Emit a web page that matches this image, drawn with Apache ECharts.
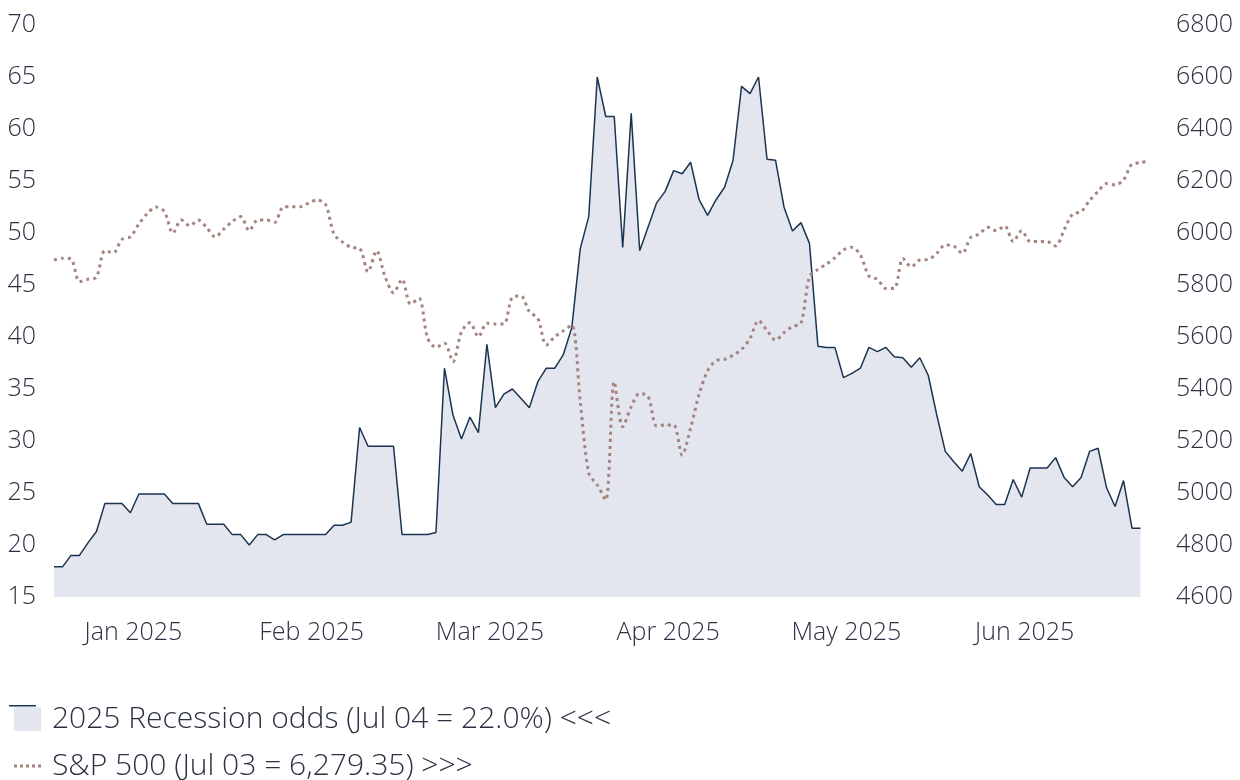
<!DOCTYPE html>
<html>
<head>
<meta charset="utf-8">
<script src="https://cdn.jsdelivr.net/npm/echarts@6/dist/echarts.min.js"></script>
<style>
  html, body { margin: 0; padding: 0; background: #fff; }
  #chart { width: 1240px; height: 780px; }
</style>
</head>
<body>
<div id="chart"></div>
<script>
// business days from 7 Jan 2025, one per point on the x axis
var dates = []
for (var d = new Date(Date.UTC(2025, 0, 7)); dates.length < 130; d.setUTCDate(d.getUTCDate() + 1)) {
  var wd = d.getUTCDay()
  if (wd !== 0 && wd !== 6) dates.push(d.toISOString().slice(0, 10))
}

var monthNames = ['Jan', 'Feb', 'Mar', 'Apr', 'May', 'Jun', 'Jul', 'Aug', 'Sep', 'Oct', 'Nov', 'Dec']

var oddsName = '2025 Recession odds (Jul 04 = 22.0%) <<<'
var spxName = 'S&P 500 (Jul 03 = 6,279.35) >>>'

// recession odds, %
var odds = [
  17.9, 17.9, 19.0, 19.0, 20.2, 21.3, 24.0, 24.0, 24.0, 23.1,
  24.9, 24.9, 24.9, 24.9, 24.0, 24.0, 24.0, 24.0, 22.0, 22.0,
  22.0, 21.0, 21.0, 20.0, 21.0, 21.0, 20.5, 21.0, 21.0, 21.0,
  21.0, 21.0, 21.0, 21.9, 21.9, 22.2, 31.3, 29.5, 29.5, 29.5,
  29.5, 21.0, 21.0, 21.0, 21.0, 21.2, 37.0, 32.5, 30.2, 32.3,
  30.8, 39.3, 33.2, 34.5, 35.0, 34.1, 33.2, 35.7, 37.0, 37.0,
  38.3, 40.9, 48.5, 51.6, 65.0, 61.2, 61.2, 48.6, 61.5, 48.3,
  50.6, 52.9, 54.0, 56.0, 55.7, 56.8, 53.2, 51.7, 53.2, 54.4,
  57.0, 64.1, 63.4, 65.0, 57.1, 57.0, 52.5, 50.2, 51.0, 49.0,
  39.1, 39.0, 39.0, 36.1, 36.5, 37.0, 39.0, 38.6, 39.0, 38.1,
  38.0, 37.1, 38.0, 36.3, 32.5, 29.0, 28.0, 27.1, 28.8, 25.6,
  24.8, 23.9, 23.9, 26.3, 24.6, 27.4, 27.4, 27.4, 28.4, 26.5,
  25.6, 26.5, 29.0, 29.3, 25.5, 23.7, 26.2, 21.6, 21.6
]

// S&P 500 close
var spx = [
  5896, 5903, 5900, 5813, 5822, 5830, 5932, 5924, 5975, 5985,
  6035, 6075, 6100, 6083, 6000, 6050, 6028, 6050, 6020, 5985,
  6015, 6044, 6063, 6009, 6050, 6050, 6041, 6100, 6101, 6101,
  6115, 6127, 6110, 5995, 5965, 5945, 5941, 5851, 5932, 5832,
  5770, 5822, 5727, 5749, 5597, 5560, 5576, 5505, 5620, 5655,
  5601, 5653, 5650, 5650, 5753, 5758, 5697, 5672, 5569, 5601,
  5624, 5646, 5350, 5076, 5031, 4973, 5428, 5255, 5332, 5383,
  5371, 5258, 5262, 5262, 5146, 5250, 5380, 5470, 5509, 5514,
  5530, 5552, 5595, 5663, 5625, 5588, 5617, 5640, 5653, 5832,
  5860, 5880, 5905, 5935, 5945, 5915, 5835, 5822, 5787, 5787,
  5902, 5870, 5896, 5898, 5922, 5954, 5950, 5922, 5983, 5996,
  6022, 6009, 6027, 5967, 6009, 5967, 5967, 5967, 5950, 6012,
  6073, 6082, 6125, 6160, 6190, 6185, 6204, 6265, 6270, 6279
]

var txt = '#2b3142'
var font = '"Open Sans", sans-serif'
var navy = '#1b3450'
var fill = '#e3e6ef'
var rose = '#a5847e'

var chart = echarts.init(document.getElementById('chart'))
chart.setOption({
  animation: false,
  grid: { left: 54, right: 91, top: 25, bottom: 183 },
  xAxis: {
    type: 'category',
    data: dates,
    boundaryGap: false,
    axisLine: { show: false },
    axisTick: { show: false },
    splitLine: { show: false },
    axisLabel: {
      interval: function (i) { return i % 21 === 9 },
      formatter: function (v) {
        return monthNames[+v.slice(5, 7) - 1] + ' ' + v.slice(0, 4)
      },
      color: txt, fontSize: 25, fontFamily: font, fontWeight: 300, margin: 23,
      padding: [0, 0, 0, 6]
    }
  },
  yAxis: [
    {
      type: 'value', min: 15, max: 70, interval: 5,
      axisLine: { show: false }, axisTick: { show: false }, splitLine: { show: false },
      axisLabel: { color: txt, fontSize: 25, fontFamily: font, fontWeight: 300, margin: 18 }
    },
    {
      type: 'value', min: 4600, max: 6800, interval: 200,
      axisLine: { show: false }, axisTick: { show: false }, splitLine: { show: false },
      axisLabel: {
        color: txt, fontSize: 25, fontFamily: font, fontWeight: 300, margin: 27,
        formatter: function (v) { return String(v) }
      }
    }
  ],
  legend: [
    {
      left: 9, top: 699,
      itemWidth: 27, itemHeight: 24,
      textStyle: { color: txt, fontSize: 30, fontFamily: font, fontWeight: 300, padding: [0, 0, 0, 6] },
      data: [{ name: oddsName, icon: 'rect', itemStyle: { color: fill, borderWidth: 0 } }]
    },
    {
      left: 9, top: 746,
      itemWidth: 27, itemHeight: 3,
      textStyle: { color: txt, fontSize: 30, fontFamily: font, fontWeight: 300, padding: [0, 0, 0, 6] },
      data: [{
        name: spxName,
        icon: 'path://M0,0h3v3h-3zM6,0h3v3h-3zM12,0h3v3h-3zM18,0h3v3h-3zM24,0h3v3h-3z',
        itemStyle: { color: rose, borderWidth: 0 }
      }]
    }
  ],
  series: [
    {
      name: oddsName,
      type: 'line',
      data: odds,
      yAxisIndex: 0,
      showSymbol: false,
      lineStyle: { color: navy, width: 1.5 },
      itemStyle: { color: navy },
      areaStyle: { color: fill, opacity: 1 }
    },
    {
      name: spxName,
      type: 'line',
      data: spx,
      yAxisIndex: 1,
      showSymbol: false,
      smooth: 0.3,
      lineStyle: { color: rose, width: 3, type: [3, 4] },
      itemStyle: { color: rose }
    }
  ],
  graphic: [
    { type: 'rect', left: 9, top: 705, shape: { width: 27, height: 1.5 }, style: { fill: navy }, z: 100 }
  ]
})
</script>
</body>
</html>
